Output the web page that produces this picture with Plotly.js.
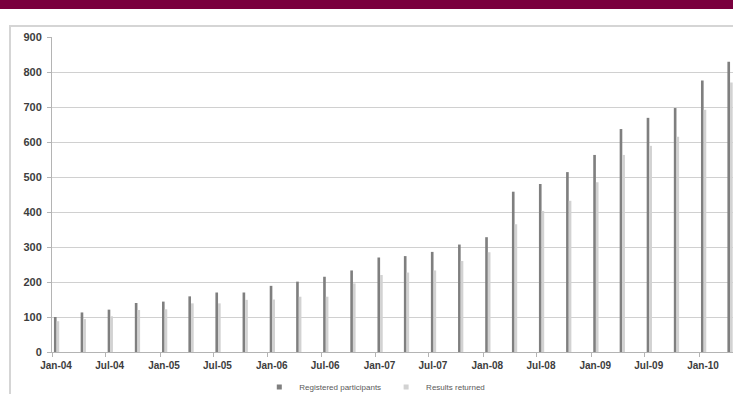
<!DOCTYPE html>
<html>
<head>
<meta charset="utf-8">
<script src="https://cdn.plot.ly/plotly-3.0.1.min.js"></script>
<style>
  html, body { margin: 0; padding: 0; background: #ffffff; overflow: hidden; }
  #wrap { position: relative; width: 733px; height: 394px; }
  #band { position: absolute; left: 0; top: 0; width: 733px; height: 9px; background: #7a003e; }
  #frame { position: absolute; left: 9px; top: 25px; width: 740px; height: 380px;
           border-left: 2px solid #d5d5d5; border-top: 2px solid #d5d5d5; }
  #chart { position: absolute; left: 0; top: 0; width: 733px; height: 394px; }
</style>
</head>
<body>
<div id="wrap">
  <div id="band"></div>
  <div id="frame"></div>
  <div id="chart"></div>
</div>
<script>
// Quarterly counts, January 2004 to April 2010
const quarters = [
  '2004-01', '2004-04', '2004-07', '2004-10',
  '2005-01', '2005-04', '2005-07', '2005-10',
  '2006-01', '2006-04', '2006-07', '2006-10',
  '2007-01', '2007-04', '2007-07', '2007-10',
  '2008-01', '2008-04', '2008-07', '2008-10',
  '2009-01', '2009-04', '2009-07', '2009-10',
  '2010-01', '2010-04'
];
const registered = [
  100, 113, 121, 140,
  144, 159, 170, 170,
  189, 201, 215, 233,
  270, 274, 286, 307,
  328, 458, 480, 514,
  563, 637, 669, 697,
  776, 829
];
const returned = [
  88, 94, 102, 120,
  122, 139, 139, 149,
  150, 158, 158, 196,
  220, 227, 233, 260,
  285, 365, 403, 432,
  485, 563, 589, 615,
  692, 770
];
const seriesNames = ['Registered participants', 'Results returned'];
const seriesColors = ['#7f7f7f', '#d2d2d2'];

const tickDates = [
  '2004-01-01', '2004-07-01', '2005-01-01', '2005-07-01', '2006-01-01', '2006-07-01',
  '2007-01-01', '2007-07-01', '2008-01-01', '2008-07-01', '2009-01-01', '2009-07-01',
  '2010-01-01'
];
const tickText = [
  'Jan-04', 'Jul-04', 'Jan-05', 'Jul-05', 'Jan-06', 'Jul-06',
  'Jan-07', 'Jul-07', 'Jan-08', 'Jul-08', 'Jan-09', 'Jul-09', 'Jan-10'
];
const yTicks = [0, 100, 200, 300, 400, 500, 600, 700, 800, 900];

const labelFont = { family: 'Liberation Sans, Arial, sans-serif', color: '#3d3d3d', weight: 'bold' };

function barTrace(values, i) {
  return {
    type: 'bar',
    name: seriesNames[i],
    x: quarters,
    y: values,
    xperiod: 'M1',
    xperiodalignment: 'middle',
    marker: { color: seriesColors[i], line: { width: 0 } },
    showlegend: false,
    hoverinfo: 'x+y+name'
  };
}

// small square keys for the legend
function legendKey(i) {
  return {
    type: 'scatter',
    mode: 'markers',
    name: seriesNames[i],
    x: [null],
    y: [null],
    marker: { symbol: 'square', size: 5, color: seriesColors[i] },
    showlegend: true,
    hoverinfo: 'skip'
  };
}

const data = [
  barTrace(registered, 0),
  barTrace(returned, 1),
  legendKey(0),
  legendKey(1)
];

const layout = {
  width: 733,
  height: 394,
  margin: { l: 52, r: 0, t: 37, b: 42, pad: 0, autoexpand: false },
  paper_bgcolor: 'rgba(0,0,0,0)',
  plot_bgcolor: 'rgba(0,0,0,0)',
  barmode: 'group',
  bargap: 0.8,
  bargroupgap: 0,
  showlegend: true,
  legend: {
    orientation: 'h',
    x: 0.474, xanchor: 'center',
    y: -0.111, yanchor: 'middle',
    font: { family: 'Liberation Sans, Arial, sans-serif', size: 8, color: '#5a5a5a' },
    itemwidth: 30,
    bgcolor: 'rgba(0,0,0,0)'
  },
  xaxis: {
    type: 'date',
    range: ['2004-01-01', '2010-04-26'],
    tickvals: tickDates,
    ticktext: tickText,
    ticks: 'outside',
    ticklen: 4,
    tickcolor: '#b4b4b4',
    showline: true,
    linecolor: '#b4b4b4',
    linewidth: 1,
    showgrid: false,
    zeroline: false,
    ticklabelshift: 4,
    tickfont: Object.assign({ size: 10 }, labelFont)
  },
  yaxis: {
    range: [0, 900],
    tickvals: yTicks,
    ticks: 'outside',
    ticklen: 4,
    tickcolor: '#b4b4b4',
    showline: true,
    linecolor: '#b4b4b4',
    linewidth: 1,
    showgrid: true,
    gridcolor: '#d0d0d0',
    gridwidth: 1,
    zeroline: false,
    ticklabelstandoff: 3,
    tickfont: Object.assign({ size: 11 }, labelFont)
  }
};

Plotly.newPlot('chart', data, layout, { displayModeBar: false, staticPlot: true });
</script>
</body>
</html>
